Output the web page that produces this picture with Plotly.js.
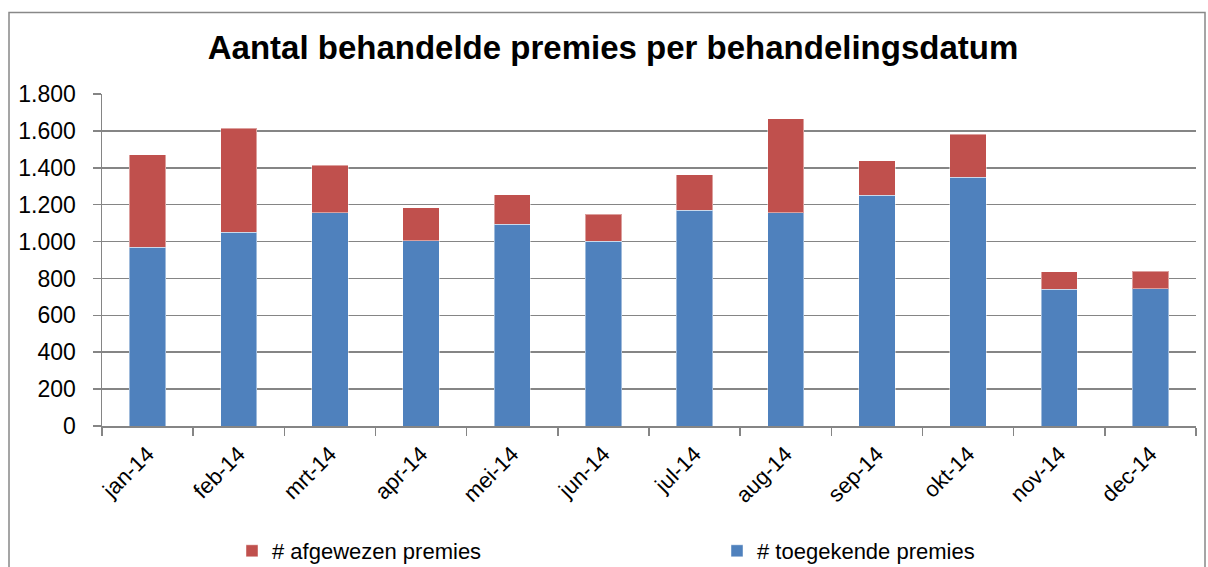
<!DOCTYPE html>
<html>
<head>
<meta charset="utf-8">
<script src="https://cdn.plot.ly/plotly-3.0.1.min.js"></script>
<style>html,body{margin:0;padding:0;background:#fff;}#chart{width:1208px;height:567px;}</style>
</head>
<body>
<div id="chart"></div>
<script>
const months = ["jan-14","feb-14","mrt-14","apr-14","mei-14","jun-14","jul-14","aug-14","sep-14","okt-14","nov-14","dec-14"];
const toegekend = [970, 1050, 1155, 1005, 1095, 1002, 1170, 1155, 1252, 1350, 742, 745];
const afgewezen = [500, 563, 259, 178, 159, 145, 192, 510, 187, 233, 94, 94];
const yTicks = [0, 200, 400, 600, 800, 1000, 1200, 1400, 1600, 1800];

const font = "Liberation Sans, Arial, sans-serif";
const L = 102, R = 1196, T = 94, B = 426;
const W = R - L, H = B - T;
const px = x => (x - L) / W;
const py = y => (B - y) / H;

const traces = [
  {type: "bar", name: "# toegekende premies", x: months, y: toegekend,
   marker: {color: "#4F81BD", line: {color: "rgba(255,255,255,0.45)", width: 1}}, legendrank: 2},
  {type: "bar", name: "# afgewezen premies", x: months, y: afgewezen,
   marker: {color: "#C0504D", line: {color: "rgba(255,255,255,0.45)", width: 1}}, legendrank: 1}
];

const layout = {
  width: 1208, height: 567,
  margin: {l: L, r: 1208 - R, t: T, b: 567 - B, autoexpand: false},
  paper_bgcolor: "#fff", plot_bgcolor: "#fff",
  barmode: "stack", bargap: 0.6,
  separators: ",.",
  font: {family: font, color: "#000"},
  title: {text: "<b>Aantal behandelde premies per behandelingsdatum</b>",
          font: {family: font, size: 33, color: "#000"}, x: 613 / 1208, xanchor: "center", y: 1 - 47/567, yanchor: "middle", automargin: false},
  xaxis: {type: "category", tickangle: -45, tickson: "boundaries", ticks: "outside", ticklen: 8,
          tickcolor: "#858585", tickwidth: 1.5, showline: true, linecolor: "#858585", linewidth: 1.5,
          showgrid: false, automargin: false, ticklabelstandoff: 5,
          tickfont: {family: font, size: 22, color: "#000"}, fixedrange: true},
  yaxis: {range: [0, 1800], tickvals: yTicks, tickformat: ",d", ticks: "outside", ticklen: 8,
          tickcolor: "#858585", tickwidth: 1.5, showline: true, linecolor: "#858585", linewidth: 1.5,
          showgrid: true, gridcolor: "#858585", gridwidth: 1.5, zeroline: false, automargin: false,
          ticklabelstandoff: 12,
          tickfont: {family: font, size: 23, color: "#000"}, fixedrange: true},
  showlegend: true,
  legend: {orientation: "h", x: px(232), xanchor: "left", y: py(551), yanchor: "middle",
           entrywidth: 440, entrywidthmode: "pixels", traceorder: "normal",
           font: {family: font, size: 22, color: "#000"}, bgcolor: "rgba(0,0,0,0)"},
  shapes: [
    {type: "rect", xref: "paper", yref: "paper", x0: px(9), x1: px(1205), y0: py(640), y1: py(12.5),
     line: {color: "#888", width: 1.5}, fillcolor: "rgba(0,0,0,0)", layer: "below"}
  ]
};

Plotly.newPlot("chart", traces, layout, {displayModeBar: false, staticPlot: true});
</script>
</body>
</html>
